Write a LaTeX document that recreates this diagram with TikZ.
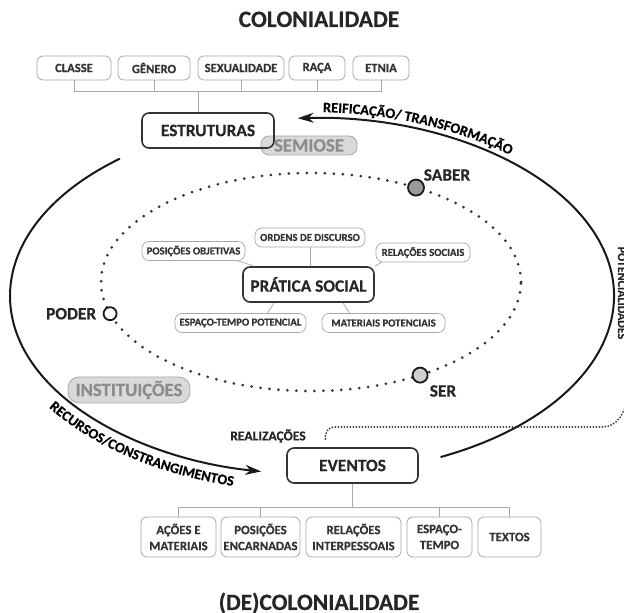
\documentclass[tikz,border=0pt]{standalone}
\usepackage{fontspec}
\setmainfont{Carlito}[BoldFeatures={FakeBold=0.5}]
\usetikzlibrary{arrows.meta,calc,decorations.text}
\definecolor{lineg}{HTML}{A8A8A8}
\definecolor{txtd}{HTML}{333333}
\definecolor{semfill}{HTML}{D9D9D9}
\definecolor{semtext}{HTML}{8C8C8C}
\definecolor{saberfill}{HTML}{9A9A9A}
\definecolor{serfill}{HTML}{CFCFCF}
\begin{document}
\begin{tikzpicture}[x=1pt,y=1pt,
  topbox/.style={draw=lineg, line width=0.8pt, rounded corners=6pt, inner sep=0pt, minimum height=24pt, text=txtd, font=\bfseries\fontsize{12.6}{14}\selectfont},
  botbox/.style={draw=lineg, line width=0.8pt, rounded corners=6pt, inner sep=0pt, minimum height=40pt, align=center, text=txtd, font=\bfseries\fontsize{12.8}{16}\selectfont},
  inbox/.style={draw=lineg, line width=0.7pt, rounded corners=7pt, inner sep=0pt, minimum height=19pt, text=txtd, font=\bfseries\fontsize{10.7}{12}\selectfont},
  mainbox/.style={draw=txtd, line width=1.6pt, rounded corners=7pt, inner sep=0pt, minimum height=35pt, text=black!85, font=\bfseries\fontsize{17.4}{20}\selectfont},
  graybox/.style={draw=lineg, fill=semfill, line width=0.8pt, rounded corners=8pt, inner sep=0pt, text=semtext, font=\bfseries\fontsize{18.7}{20}\selectfont},
  bracket/.style={draw=lineg, line width=0.9pt},
  bigarc/.style={draw=black!90, line width=2pt},
  bigdots/.style={draw=black!80, line width=3pt, line cap=round, dash pattern=on 0pt off 9pt},
  finedots/.style={draw=black!80, line width=2pt, line cap=round, dash pattern=on 0pt off 3pt},
  lbl/.style={text=black!85, font=\bfseries\fontsize{17.3}{20}\selectfont},
  dotnode/.style={circle, draw=black!90, line width=1.8pt, inner sep=0pt},
]
\useasboundingbox (0,0) rectangle (624,613);

% titles
\node[anchor=base, text=black!85, font=\bfseries\fontsize{23.5}{26}\selectfont] (title) at (319,586) {COLONIALIDADE};
\node[anchor=base, text=black!85, font=\bfseries\fontsize{23.4}{26}\selectfont] (subtitle) at (319,3) {(DE)COLONIALIDADE};

% top boxes
\node[topbox, minimum width=74pt] (classe) at (74,545) {CLASSE};
\node[topbox, minimum width=72pt] (genero) at (154,545) {GÊNERO};
\node[topbox, minimum width=86pt] (sex) at (241,545) {SEXUALIDADE};
\node[topbox, minimum width=56pt] (raca) at (317,545) {RAÇA};
\node[topbox, minimum width=56pt] (etnia) at (381,545) {ETNIA};

\node[graybox, minimum width=96pt, minimum height=19pt] (semiose) at (309,467.5) {SEMIOSE};
\node[mainbox, minimum width=132pt] (estr) at (208,482.5) {ESTRUTURAS};

\coordinate (tb) at (0,522);
\draw[bracket] (classe.south) -- (classe.south |- tb) -- (etnia.south |- tb) -- (etnia.south);
\draw[bracket] (genero.south) -- (genero.south |- tb);
\draw[bracket] (sex.south) -- (sex.south |- tb);
\draw[bracket] (raca.south) -- (raca.south |- tb);
\coordinate (estrtop) at ($(estr.north)+(-10,0)$);
\draw[bracket] (estrtop) -- (estrtop |- tb);

% outer cycle
\coordinate (oc) at (312,317);
\draw[bigarc, -{Stealth[length=16pt,width=10pt]}] ($(oc)+(129.5:302 and 178)$) arc[start angle=129.5, end angle=260.3, x radius=302, y radius=178];
\draw[bigarc, -{Stealth[length=16pt,width=10pt]}] ($(oc)+(-64.8:302 and 178)$) arc[start angle=-64.8, end angle=92.7, x radius=302, y radius=178];

\path[decorate, decoration={text along path, text align=center, text={|\bfseries\fontsize{14.4}{16}\selectfont|REIFICAÇÃO/ TRANSFORMAÇÃO}}]
  ($(oc)+(89:308 and 184)$) arc[start angle=89, end angle=48.8, x radius=308, y radius=184];
\path[decorate, decoration={text along path, text align=center, text={|\bfseries\fontsize{14.4}{16}\selectfont|RECURSOS/CONSTRANGIMENTOS}}]
  ($(oc)+(213:320 and 196)$) arc[start angle=213, end angle=257, x radius=320, y radius=196];

% dotted ellipse
\coordinate (dc) at (311,331);
\draw[bigdots] (dc) ellipse[x radius=210, y radius=109];
\node[dotnode, fill=white, minimum size=13pt] (poder) at ($(dc)+(196.9:210 and 109)$) {};
\node[dotnode, fill=saberfill, minimum size=16pt] (saber) at ($(dc)+(60:210 and 109)$) {};
\node[dotnode, fill=serfill, minimum size=15pt] (ser) at ($(dc)+(-58.7:210 and 109)$) {};
\node[lbl, anchor=east] (poderl) at ($(poder.west)+(-3,0)$) {PODER};
\node[lbl] (saberl) at (447,438) {SABER};
\node[lbl] (serl) at (443,222) {SER};

% social practice
\node[mainbox, minimum width=131pt, font=\bfseries\fontsize{17.3}{20}\selectfont] (ps) at (308.5,328.5) {PRÁTICA SOCIAL};
\node[inbox, minimum width=110pt] (ord) at (310,375.5) {ORDENS DE DISCURSO};
\node[inbox, minimum width=103pt] (pos) at (193.5,362) {POSIÇÕES OBJETIVAS};
\node[inbox, minimum width=94pt] (rel) at (423,360.5) {RELAÇÕES SOCIAIS};
\node[inbox, minimum width=131pt] (esp) at (240.5,290) {ESPAÇO-TEMPO POTENCIAL};
\node[inbox, minimum width=123pt] (mat) at (383.5,290) {MATERIAIS POTENCIAIS};
\draw[bracket, line width=0.7pt] (ord.south) -- (ord.south |- ps.north);
\draw[bracket, line width=0.7pt] ($(pos.south east)+(-7,0)$) -- ($(ps.north west)+(12,0)$);
\draw[bracket, line width=0.7pt] ($(ps.north east)+(0,0)$) -- ($(rel.south west)+(6,0)$);
\draw[bracket, line width=0.7pt] ($(esp.north east)+(-39,0)$) -- ($(ps.south west)+(32,0)$);
\draw[bracket, line width=0.7pt] ($(mat.north west)+(28,0)$) -- ($(ps.south east)+(-32,0)$);

\node[graybox, minimum width=122pt, minimum height=26pt, rounded corners=11pt] (inst) at (129,223) {INSTITUIÇÕES};

% realizations
\node[text=black!85, font=\bfseries\fontsize{13.6}{15}\selectfont] (real) at (268,177) {REALIZAÇÕES};
\coordinate (rs) at ($(real.east)+(16,-3)$);
\coordinate (rc) at ($(rs)+(10,12)$);
\coordinate (rr) at ($(rs)+(278,12)$);
\coordinate (re) at ($(rs)+(305,48)$);
\draw[finedots] (rs) .. controls ($(rs)+(0,8)$) and ($(rs)+(3,12)$) .. (rc) -- (rr) .. controls ($(rr)+(14,1)$) and ($(rr)+(21,12)$) .. (re);
\node[rotate=-90, anchor=base, text=black!85, font=\bfseries\fontsize{12}{14}\selectfont] (pot) at (618,320) {POTENCIALIDADES};

% events
\node[mainbox, minimum width=131pt] (ev) at (352.5,147.5) {EVENTOS};
\node[botbox, minimum width=75pt] (b1) at (178.5,76) {AÇÕES E\\MATERIAIS};
\node[botbox, minimum width=79pt] (b2) at (260.5,76) {POSIÇÕES\\ENCARNADAS};
\node[botbox, minimum width=95pt] (b3) at (353.5,76) {RELAÇÕES\\INTERPESSOAIS};
\node[botbox, minimum width=65pt] (b4) at (439.5,76) {ESPAÇO-\\TEMPO};
\node[botbox, minimum width=63pt] (b5) at (509.5,76) {TEXTOS};
\coordinate (bb) at (0,106);
\draw[bracket] (b1.north) -- (b1.north |- bb) -- (b5.north |- bb) -- (b5.north);
\draw[bracket] (b2.north) -- (b2.north |- bb);
\draw[bracket] (b4.north) -- (b4.north |- bb);
\draw[bracket] (ev.south) -- (ev.south |- bb);
\end{tikzpicture}
\end{document}
